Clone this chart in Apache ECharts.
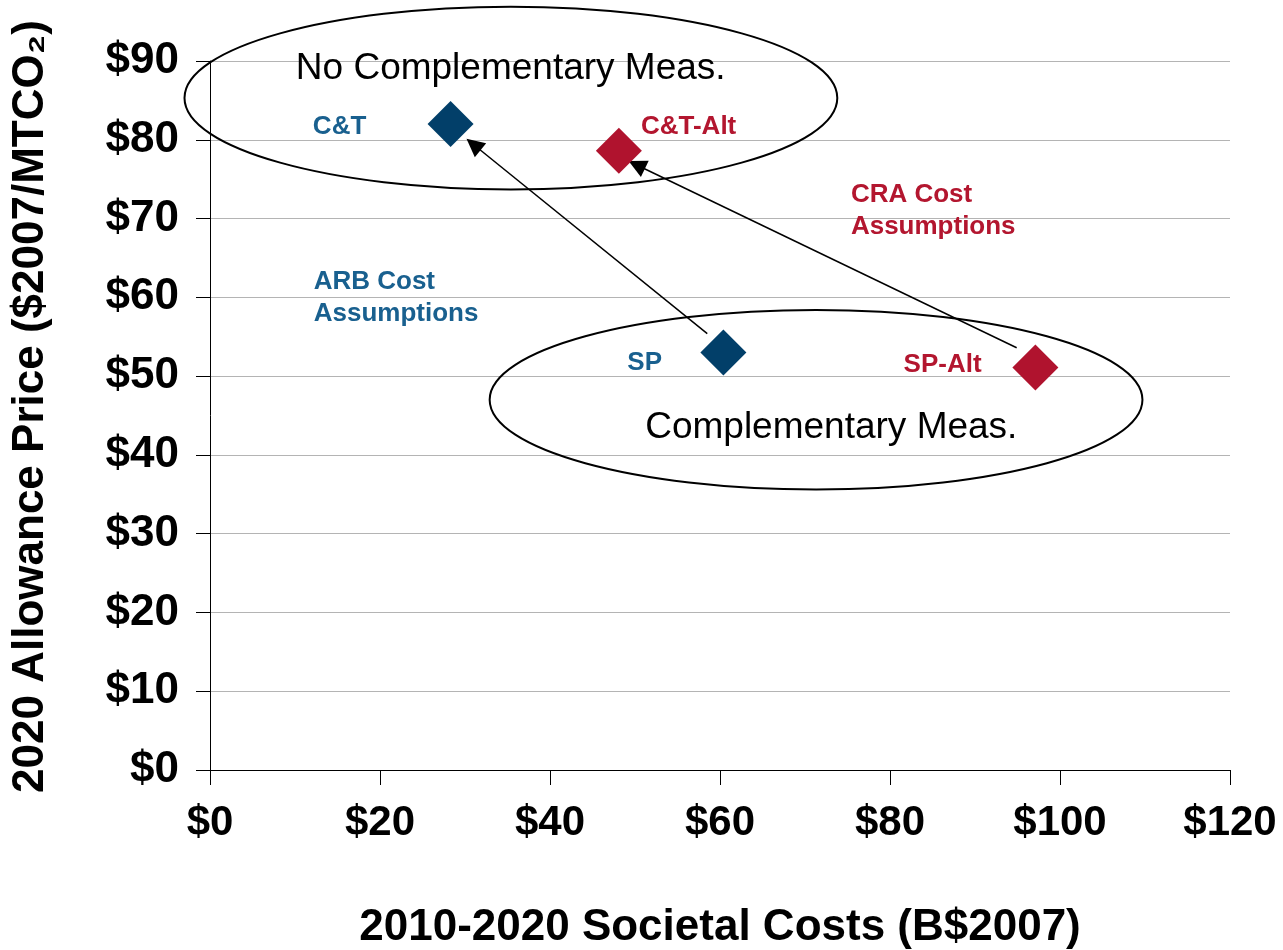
<!DOCTYPE html>
<html>
<head>
<meta charset="utf-8">
<script src="https://cdn.jsdelivr.net/npm/echarts@6/dist/echarts.min.js"></script>
<style>
  html, body { margin: 0; padding: 0; background: #fff; }
  #chart { width: 1283px; height: 950px; }
</style>
</head>
<body>
<div id="chart"></div>
<script>
// scenario points (x: societal cost, y: allowance price)
const scenarios = ['C&T', 'C&T-Alt', 'SP', 'SP-Alt'];
const costs = [28.3, 48.1, 60.4, 97.1];
const prices = [82.0, 78.6, 53.0, 51.1];
const pointColors = ['#023f69', '#b0132e', '#023f69', '#b0132e'];

// arrows: SP -> C&T, SP-Alt -> C&T-Alt
const arrowFrom = [[58.5, 55.4], [94.9, 53.6]];
const arrowTo = [[31.0, 79.4], [50.2, 76.8]];

const xTicks = [0, 20, 40, 60, 80, 100, 120];
const yTicks = [0, 10, 20, 30, 40, 50, 60, 70, 80, 90];

const blue = '#19608f';
const red = '#b3162f';
const font = "'Liberation Sans', Arial, sans-serif";

let myChart = echarts.init(document.getElementById('chart'));

let option = {
    backgroundColor: '#fff',
    animation: false,
    grid: { left: 210, right: 53, top: 61, bottom: 180, containLabel: false, outerBoundsMode: 'none' },
    xAxis: {
        type: 'value',
        min: xTicks[0],
        max: xTicks[xTicks.length - 1],
        interval: 20,
        name: '2010-2020 Societal Costs (B$2007)',
        nameLocation: 'middle',
        nameGap: 136,
        nameTextStyle: { fontFamily: font, fontWeight: 'bold', fontSize: 44, color: '#000' },
        axisLine: { show: true, onZero: false, lineStyle: { color: '#000', width: 1 } },
        axisTick: { show: true, length: 15, lineStyle: { color: '#000' } },
        axisLabel: {
            margin: 32,
            fontFamily: font, fontWeight: 'bold', fontSize: 42, color: '#000',
            formatter: v => '$' + v
        },
        splitLine: { show: false }
    },
    yAxis: {
        type: 'value',
        min: yTicks[0],
        max: yTicks[yTicks.length - 1],
        interval: 10,
        name: '2020 Allowance Price ($2007/MTCO\u2082)',
        nameLocation: 'middle',
        nameGap: 157,
        nameTextStyle: { fontFamily: font, fontWeight: 'bold', fontSize: 44, color: '#000', padding: [0, 0, 0, 18] },
        axisLine: { show: true, onZero: false, lineStyle: { color: '#000', width: 1 } },
        axisTick: { show: true, inside: false, length: 14, lineStyle: { color: '#000' } },
        axisLabel: {
            margin: 31,
            fontFamily: font, fontWeight: 'bold', fontSize: 44, color: '#000',
            formatter: v => '$' + v
        },
        splitLine: { show: true, lineStyle: { color: '#b4b4b4', width: 1 } }
    },
    series: [
        {
            type: 'lines',
            coordinateSystem: 'cartesian2d',
            z: 3,
            symbol: ['none', 'triangle'],
            symbolSize: [14, 18],
            lineStyle: { color: '#000', width: 1.5, opacity: 1 },
            data: arrowFrom.map((p, i) => ({ coords: [p, arrowTo[i]] }))
        },
        {
            type: 'scatter',
            z: 4,
            symbol: 'diamond',
            symbolSize: 46,
            data: costs.map((c, i) => ({
                name: scenarios[i],
                value: [c, prices[i]],
                itemStyle: { color: pointColors[i], opacity: 1 }
            }))
        }
    ]
};
myChart.setOption(option);

// annotations placed in data units, converted to pixels
const ellipses = [
    { cx: 35.4, cy: 85.3, rx: 38.4, ry: 11.6 },
    { cx: 71.3, cy: 47.0, rx: 38.4, ry: 11.4 }
];
const notes = [
    { text: 'No Complementary Meas.', x: 10.1, y: 89.0, color: '#000', weight: 'normal', size: 37 },
    { text: 'Complementary Meas.', x: 51.2, y: 43.4, color: '#000', weight: 'normal', size: 37 },
    { text: 'C&T', x: 12.1, y: 81.7, color: blue, weight: 'bold', size: 26 },
    { text: 'C&T-Alt', x: 50.7, y: 81.7, color: red, weight: 'bold', size: 26 },
    { text: 'CRA Cost\nAssumptions', x: 75.4, y: 71.0, color: red, weight: 'bold', size: 26 },
    { text: 'ARB Cost\nAssumptions', x: 12.2, y: 60.0, color: blue, weight: 'bold', size: 26 },
    { text: 'SP', x: 49.1, y: 51.7, color: blue, weight: 'bold', size: 26 },
    { text: 'SP-Alt', x: 81.6, y: 51.4, color: red, weight: 'bold', size: 26 }
];

function px(x, y) {
    return myChart.convertToPixel({ gridIndex: 0 }, [x, y]);
}

let graphics = [];
ellipses.forEach(e => {
    let c = px(e.cx, e.cy);
    let r = px(e.cx + e.rx, e.cy + e.ry);
    graphics.push({
        type: 'ellipse',
        z: 2,
        shape: { cx: c[0], cy: c[1], rx: r[0] - c[0], ry: c[1] - r[1] },
        style: { fill: 'none', stroke: '#000', lineWidth: 2 }
    });
});
notes.forEach(n => {
    let p = px(n.x, n.y);
    graphics.push({
        type: 'text',
        z: 5,
        x: p[0],
        y: p[1],
        style: {
            text: n.text,
            fill: n.color,
            font: n.weight + ' ' + n.size + 'px ' + font,
            lineHeight: 32,
            verticalAlign: 'middle',
            align: 'left'
        }
    });
});
myChart.setOption({ graphic: graphics });
</script>
</body>
</html>
